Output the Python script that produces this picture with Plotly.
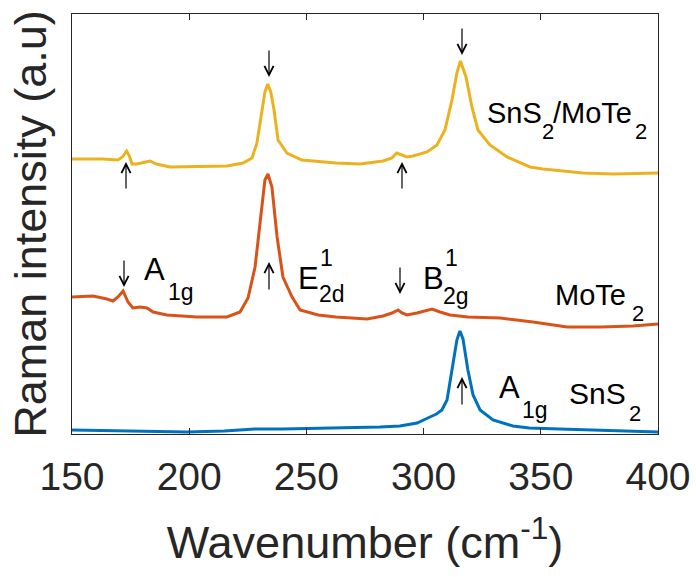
import plotly.graph_objects as go

# ---------------- data ----------------
wn_hetero = [150, 163, 169.6, 171.5, 173.3, 174.5, 175.6, 177.7, 183.3, 186, 191.8, 205.9,
             216.1, 223, 226.8, 228.9, 231.1, 232.3, 233.5, 234.8, 236.2, 237.9, 241.7, 248,
             262.6, 272.9, 282.7, 286.5, 288.5, 290.5, 292.9, 295.5, 301.5, 305.7, 309.1,
             312.1, 314.2, 315.7, 318.1, 320.6, 323.2, 328.3, 335.6, 345.4, 350.9, 359.5,
             368, 380.8, 392.2, 400]
int_hetero = [275, 275, 274, 277, 283, 278, 270, 270, 273, 270, 267, 268,
              268, 271, 276, 291, 324, 342, 350, 342, 324, 294, 281, 274,
              271, 270, 273, 276, 281, 279, 277, 278, 282, 289, 304,
              334, 361, 373, 357, 327, 304, 289, 277, 267, 265, 263,
              261, 260, 261, 261]

wn_mote2 = [150, 159, 164.9, 167.5, 169.6, 171.8, 173.9, 176, 179, 182, 184.6, 190.5, 203.3,
            216.1, 221.7, 225.1, 228.1, 230.2, 232.3, 233.6, 235.3, 237.5, 240, 243.9, 247.3,
            255, 262.6, 275.9, 282.7, 286.5, 289.1, 290.8, 292.9, 297.2, 303.6, 307, 311.3,
            318.9, 332.6, 346.7, 361.2, 375.3, 389.3, 400]
int_mote2 = [137, 138, 135, 133, 137, 143, 132, 126, 127, 126, 122, 119, 117,
             117, 122, 136, 167, 214, 254, 260, 247, 197, 157, 137, 124,
             119, 117, 115, 118, 121, 124, 121, 119, 121, 125, 122, 119,
             117, 116, 112, 107, 107, 108, 110]

wn_sns2 = [150, 175, 199, 215, 228, 240, 262.6, 281.4, 289.9, 297.2, 302.7, 305.5, 307.8,
           310, 312.1, 314.2, 315.5, 316.8, 318.9, 321.1, 324.1, 329.6, 338.1, 345, 358,
           375, 390, 400]
int_sns2 = [4, 3, 2, 3, 5, 5, 6, 7, 8, 11, 17, 20, 24,
            34, 64, 94, 103, 95, 64, 39, 24, 14, 8, 6, 5,
            4, 3, 2]

x_ticks = [150, 200, 250, 300, 350, 400]
x_range = [150, 400]
y_range = [0, 420]

# ---------------- figure ----------------
W, H = 696, 577
L, R, T, B = 72, 38, 14, 143
FONT = "Liberation Sans, Arial, Helvetica, sans-serif"

fig = go.Figure()
fig.add_trace(go.Scatter(x=wn_sns2, y=int_sns2, mode="lines",
                         line=dict(color="#0072BD", width=3)))
fig.add_trace(go.Scatter(x=wn_mote2, y=int_mote2, mode="lines",
                         line=dict(color="#D95319", width=3)))
fig.add_trace(go.Scatter(x=wn_hetero, y=int_hetero, mode="lines",
                         line=dict(color="#EDB120", width=3)))

pw, ph = W - L - R, H - T - B


def px(xp):
    return (xp - L) / pw


def py(yp):
    return (H - B - yp) / ph


anns = []


def txt(s, xp, yp, size, anchor="left"):
    anns.append(dict(text=s, x=px(xp), y=py(yp), xref="paper", yref="paper",
                     xanchor=anchor, yanchor="middle", showarrow=False,
                     font=dict(family=FONT, size=size, color="black")))


def arrow(xp, tip, tail):
    anns.append(dict(text="", x=px(xp), y=py(tip), xref="paper", yref="paper",
                     ax=0, ay=tail - tip, showarrow=True, arrowhead=5,
                     arrowsize=1.5, arrowwidth=1.2, arrowcolor="black"))


# arrows on the heterostructure curve
arrow(126, 162, 190)
arrow(269, 77, 49)
arrow(402, 162, 190)
arrow(462, 55, 27)
# arrows on MoTe2
arrow(124, 287, 259)
arrow(269, 262, 291)
arrow(400, 294, 266)
# arrow on SnS2
arrow(462, 377, 406)

# labels
txt("SnS", 485, 113, 29)
txt("2", 540, 131, 22)
txt("/MoTe", 551, 113, 29)
txt("2", 633, 131, 22)

txt("A", 142, 269, 31)
txt("1g", 166, 292, 23)
txt("E", 296, 278, 31)
txt("1", 318, 258, 23)
txt("2d", 317, 294, 23)
txt("B", 421, 278, 31)
txt("1", 443, 258, 23)
txt("2g", 441, 296, 23)
txt("MoTe", 553, 295, 29)
txt("2", 630, 313, 22)

txt("A", 497, 387, 31)
txt("1g", 520, 410, 23)
txt("SnS", 567, 393, 30)
txt("2", 627, 413, 22)

fig.update_layout(
    width=W, height=H,
    margin=dict(l=L, r=R, t=T, b=B, pad=0),
    paper_bgcolor="white", plot_bgcolor="white",
    showlegend=False,
    font=dict(family=FONT, color="#262626"),
    annotations=anns,
    xaxis=dict(range=x_range, tickvals=x_ticks, ticks="inside", ticklen=6,
               tickcolor="#262626", showline=True, linecolor="#262626", linewidth=1,
               mirror="ticks", showgrid=False, zeroline=False, automargin=False,
               tickfont=dict(size=39, color="#262626"), ticklabelstandoff=8,
               title=dict(text="Wavenumber (cm<sup>-1</sup>)",
                          font=dict(size=45, color="#262626"), standoff=29)),
    yaxis=dict(range=y_range, showticklabels=False, ticks="",
               showline=True, linecolor="#262626", linewidth=1, mirror=True,
               showgrid=False, zeroline=False, automargin=False,
               title=dict(text="Raman intensity (a.u)",
                          font=dict(size=45, color="#262626"), standoff=10)),
)

fig.write_html("out.html")
